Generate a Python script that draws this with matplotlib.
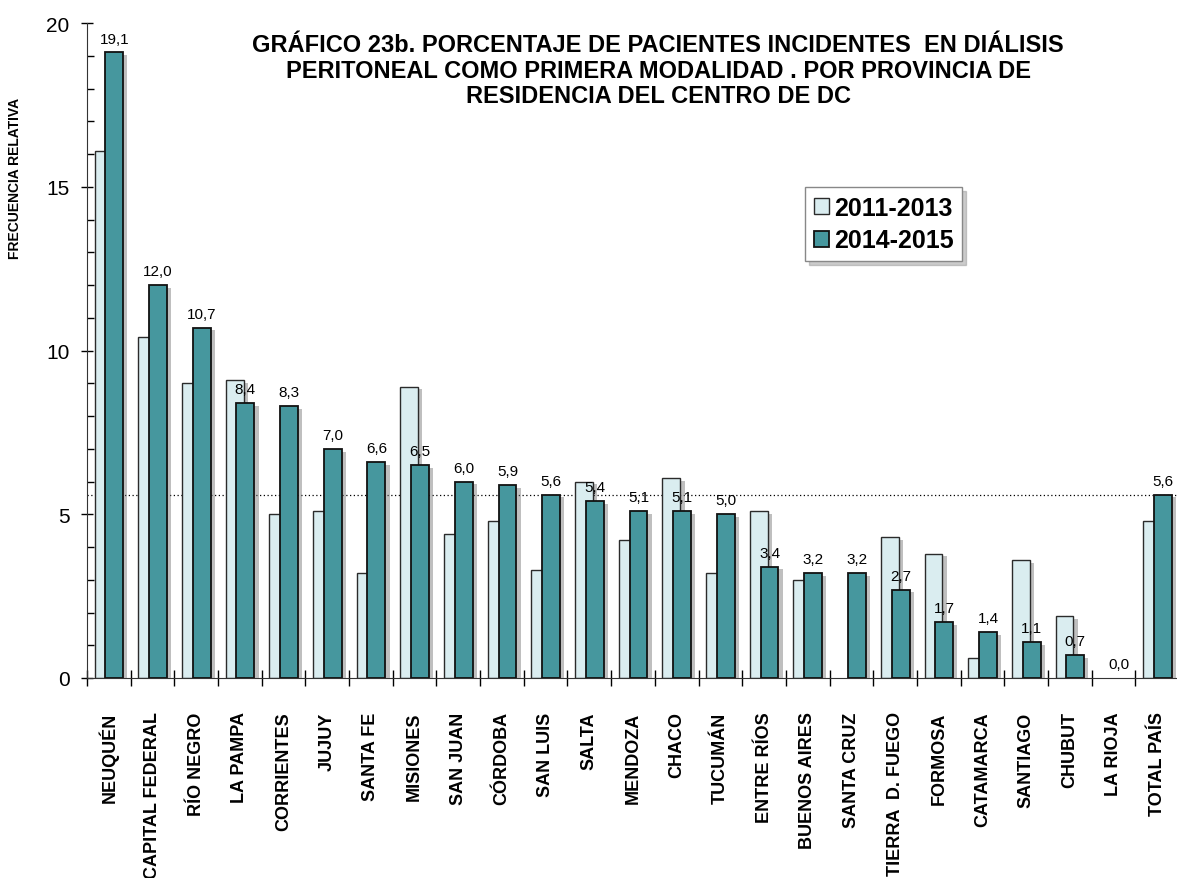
import numpy as np
import matplotlib
matplotlib.use("Agg")
import matplotlib.pyplot as plt
import matplotlib.patheffects as pe
from matplotlib.ticker import MultipleLocator

plt.rcParams['font.family'] = ['Liberation Sans', 'DejaVu Sans']

provincias = ['NEUQUÉN', 'CAPITAL FEDERAL', 'RÍO NEGRO', 'LA PAMPA', 'CORRIENTES',
              'JUJUY', 'SANTA FE', 'MISIONES', 'SAN JUAN', 'CÓRDOBA', 'SAN LUIS',
              'SALTA', 'MENDOZA', 'CHACO', 'TUCUMÁN', 'ENTRE RÍOS', 'BUENOS AIRES',
              'SANTA CRUZ', 'TIERRA  D. FUEGO', 'FORMOSA', 'CATAMARCA', 'SANTIAGO',
              'CHUBUT', 'LA RIOJA', 'TOTAL PAÍS']
p2011_2013 = [16.1, 10.4, 9.0, 9.1, 5.0, 5.1, 3.2, 8.9, 4.4, 4.8, 3.3, 6.0, 4.2,
              6.1, 3.2, 5.1, 3.0, 0.0, 4.3, 3.8, 0.6, 3.6, 1.9, 0.0, 4.8]
p2014_2015 = [19.1, 12.0, 10.7, 8.4, 8.3, 7.0, 6.6, 6.5, 6.0, 5.9, 5.6, 5.4, 5.1,
              5.1, 5.0, 3.4, 3.2, 3.2, 2.7, 1.7, 1.4, 1.1, 0.7, 0.0, 5.6]
total_pais = 5.6

W, H = 1177, 879
fig = plt.figure(figsize=(W / 100, H / 100), dpi=100)
ax = fig.add_axes([87 / W, (H - 679) / H, 1092 / W, 655 / H])

x = np.arange(len(provincias))
shadow = [pe.SimplePatchShadow(offset=(3, -2), shadow_rgbFace='0.45', alpha=0.45), pe.Normal()]

ax.axhline(total_pais, color='black', lw=0.9, ls=(0, (1, 2)), zorder=1)

b1 = ax.bar(x - 0.121, p2011_2013, width=0.41, color='#daedf0', edgecolor='#2b2b2b',
            linewidth=1.0, zorder=2, label='2011-2013')
b2 = ax.bar(x + 0.126, p2014_2015, width=0.41, color='#46979e', edgecolor='#111111',
            linewidth=1.3, zorder=3, label='2014-2015')
for bars in (b1, b2):
    for r in bars:
        if r.get_height() > 0:
            r.set_path_effects(shadow)
        else:
            r.set_visible(False)

for xi, v in zip(x, p2014_2015):
    ax.annotate(f'{v:.1f}'.replace('.', ','), (xi + 0.126, v), xytext=(0, 5),
                textcoords='offset points', ha='center', va='bottom', fontsize=11, zorder=5)

ax.set_xlim(-0.5, len(provincias) - 0.5)
ax.set_ylim(0, 20)
ax.yaxis.set_major_locator(MultipleLocator(5))
ax.yaxis.set_minor_locator(MultipleLocator(1))
ax.tick_params(axis='y', which='major', direction='inout', length=9, width=1, labelsize=15, pad=8)
ax.tick_params(axis='y', which='minor', direction='in', length=5, width=1)

ax.set_xticks(np.arange(-0.5, len(provincias), 1))
ax.set_xticklabels([])
ax.set_xticks(x, labels=provincias, minor=True)
ax.tick_params(axis='x', which='major', direction='inout', length=11, width=1)
ax.tick_params(axis='x', which='minor', length=0, pad=24)
for lab in ax.get_xticklabels(minor=True):
    lab.set_rotation(90)
    lab.set_fontweight('bold')
    lab.set_fontsize(13)
    lab.set_va('top')

for s in ('top', 'right'):
    ax.spines[s].set_visible(False)
ax.spines['left'].set_color('#333333')
ax.spines['bottom'].set_color('#333333')

fig.text(15 / W, 1 - 178 / H, 'FRECUENCIA RELATIVA', rotation=90, ha='center', va='center',
         fontsize=10, fontweight='bold')

titulo = ['GRÁFICO 23b. PORCENTAJE DE PACIENTES INCIDENTES  EN DIÁLISIS',
          'PERITONEAL COMO PRIMERA MODALIDAD . POR PROVINCIA DE',
          'RESIDENCIA DEL CENTRO DE DC']
for k, linea in enumerate(titulo):
    fig.text(658 / W, 1 - (52 + 25.5 * k) / H, linea, ha='center', va='baseline',
             fontsize=17, fontweight='bold')

leg = ax.legend(loc='upper left', bbox_to_anchor=(805 / W, 1 - 188 / H),
                bbox_transform=fig.transFigure, prop={'size': 18, 'weight': 'bold'},
                handlelength=0.6, handleheight=0.6, handletextpad=0.2, labelspacing=0.35,
                borderpad=0.35, borderaxespad=0, fancybox=False, edgecolor='#888888',
                framealpha=1, shadow={'ox': 3, 'oy': -3, 'color': '0.6', 'alpha': 0.5})
for h in leg.legend_handles:
    h.set_path_effects([])

fig.savefig('out.png', dpi=100)
